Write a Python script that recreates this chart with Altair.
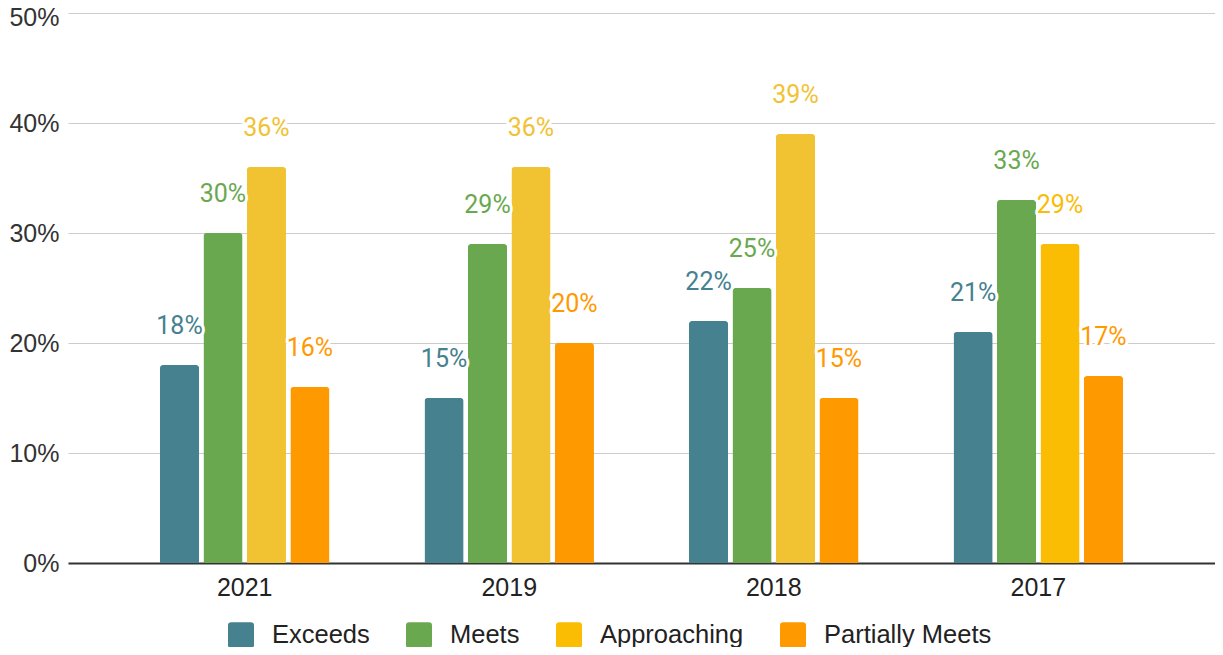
import altair as alt
import pandas as pd
import json

# ---- data ----
years = ["2021", "2019", "2018", "2017"]
series = ["Exceeds", "Meets", "Approaching", "Partially Meets"]
exceeds = [18, 15, 22, 21]
meets = [30, 29, 25, 33]
approaching = [36, 36, 39, 29]
partially_meets = [16, 20, 15, 17]

# ---- styles ----
legend_colors = {"Exceeds": "#45818e", "Meets": "#6aa84f",
                 "Approaching": "#fbbc04", "Partially Meets": "#ff9900"}
bar_override = {("Approaching", "2021"): "#f1c232",
                ("Approaching", "2019"): "#f1c232",
                ("Approaching", "2018"): "#f1c232"}

values = {"Exceeds": exceeds, "Meets": meets,
          "Approaching": approaching, "Partially Meets": partially_meets}
rows = []
for s in series:
    for y, v in zip(years, values[s]):
        rows.append({"year": y, "series": s, "value": v / 100,
                     "hex": bar_override.get((s, y), legend_colors[s])})
df = pd.DataFrame(rows)

all_hex = [legend_colors[s] for s in series] + sorted(set(bar_override.values()))
legend_hex = [legend_colors[s] for s in series]
name_map = json.dumps({legend_colors[s]: s for s in series})

x_enc = alt.X("year:N", sort=years,
              scale=alt.Scale(paddingInner=0, paddingOuter=0.168),
              axis=alt.Axis(title=None, labelAngle=0, ticks=False,
                            labelFontSize=25, labelFont="Liberation Sans",
                            labelColor="#222222", labelPadding=12,
                            domainColor="#333333", domainWidth=2))
xo_enc = alt.XOffset("series:N", sort=series,
                     scale=alt.Scale(range=[47.5, 217], paddingInner=0.1,
                                     paddingOuter=0))
y_enc = alt.Y("value:Q", scale=alt.Scale(domain=[0, 0.5], nice=False),
              axis=alt.Axis(title=None, format=".0%",
                            values=[0, 0.1, 0.2, 0.3, 0.4, 0.5],
                            ticks=False, domain=False, labelFontSize=25,
                            labelFont="Liberation Sans", labelColor="#333333",
                            labelOffset=alt.condition("datum.value >= 0.5",
                                                      alt.value(4), alt.value(0)),
                            labelPadding=9, gridColor="#cccccc", gridWidth=1.2))

rounded = ("M-1,-0.75Q-1,-1,-0.75,-1L0.75,-1Q1,-1,1,-0.75L1,0.75"
           "Q1,1,0.75,1L-0.75,1Q-1,1,-1,0.75Z")

bars = alt.Chart(df).mark_bar(cornerRadiusTopLeft=3, cornerRadiusTopRight=3).encode(
    x=x_enc, xOffset=xo_enc, y=y_enc,
    color=alt.Color("hex:N",
                    scale=alt.Scale(domain=all_hex, range=all_hex),
                    legend=alt.Legend(title=None, orient="none", direction="horizontal",
                                      values=legend_hex,
                                      labelExpr=f"{name_map}[datum.value]",
                                      legendX=160, legendY=609, padding=0,
                                      symbolType=rounded, symbolSize=676,
                                      symbolStrokeWidth=0, labelOffset=18,
                                      columnPadding=36, labelFontSize=25.5,
                                      labelFont="Liberation Sans",
                                      labelColor="#222222", labelLimit=400)),
)

halo = alt.Chart(df).mark_text(font="Roboto", fontSize=25, baseline="alphabetic",
                               dy=-31, fill="white", stroke="white",
                               strokeWidth=6, strokeJoin="round").encode(
    x=x_enc, xOffset=xo_enc, y=y_enc,
    text=alt.Text("value:Q", format=".0%"),
)

labels = alt.Chart(df).mark_text(font="Roboto", fontSize=25, baseline="alphabetic",
                                 dy=-31).encode(
    x=x_enc, xOffset=xo_enc, y=y_enc,
    text=alt.Text("value:Q", format=".0%"),
    fill=alt.Fill("hex:N", scale=None),
)

chart = alt.layer(bars, halo, labels).properties(
    width=1147, height=550,
    autosize=alt.AutoSizeParams(type="none"),
    padding={"left": 60, "top": 5, "right": 0, "bottom": 84},
).configure_view(stroke=None)

chart.save("out.html", embed_options={"renderer": "svg", "actions": False})
